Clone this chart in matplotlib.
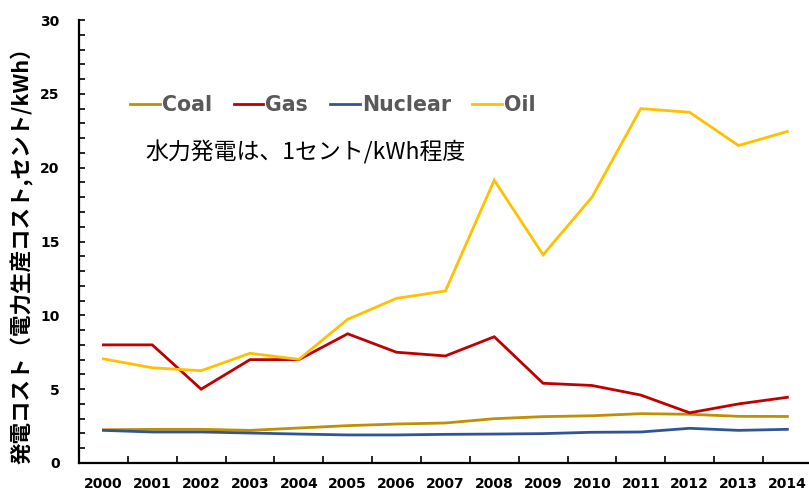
import matplotlib
matplotlib.use("Agg")
import matplotlib.pyplot as plt
from matplotlib.ticker import MultipleLocator, FixedLocator

years = ["2000", "2001", "2002", "2003", "2004", "2005", "2006", "2007",
         "2008", "2009", "2010", "2011", "2012", "2013", "2014"]
coal = [2.25, 2.28, 2.28, 2.21, 2.37, 2.53, 2.64, 2.71, 3.0, 3.14, 3.2, 3.34, 3.3, 3.16, 3.15]
gas = [8.0, 8.0, 5.0, 7.0, 7.0, 8.75, 7.5, 7.25, 8.55, 5.4, 5.25, 4.6, 3.4, 4.0, 4.45]
nuclear = [2.21, 2.1, 2.1, 2.03, 1.96, 1.9, 1.9, 1.94, 1.96, 1.99, 2.08, 2.1, 2.35, 2.21, 2.28]
oil = [7.05, 6.45, 6.25, 7.43, 7.02, 9.73, 11.15, 11.65, 19.15, 14.1, 18.0, 24.0, 23.75, 21.5, 22.45]

series = [("Coal", coal, "#BF9000"), ("Gas", gas, "#C00000"),
          ("Nuclear", nuclear, "#2F5597"), ("Oil", oil, "#FFC000")]

fig = plt.figure(figsize=(8.09, 4.92), dpi=100)
ax = fig.add_axes([79/809, 1-463/492, (811.4-78.6)/809, 443/492])

x = list(range(len(years)))
for name, vals, col in series:
    ax.plot(x, vals, color=col, lw=2.0, label=name, solid_joinstyle="miter")

ax.set_xlim(-0.5, len(years) - 0.5)
ax.set_ylim(0, 30)
ax.yaxis.set_major_locator(MultipleLocator(5))
ax.yaxis.set_minor_locator(MultipleLocator(1))
ax.set_xticks(x)
ax.set_xticklabels(years)
ax.xaxis.set_minor_locator(FixedLocator([i + 0.5 for i in x[:-1]]))

for s in ["top", "right"]:
    ax.spines[s].set_visible(False)
for s in ["left", "bottom"]:
    ax.spines[s].set_linewidth(1.6)
    ax.spines[s].set_color("black")

ax.tick_params(axis="y", which="both", direction="in", length=4, width=1.2,
               labelsize=10, pad=14)
ax.tick_params(axis="x", which="major", length=0, labelsize=10, pad=10)
ax.tick_params(axis="x", which="minor", direction="in", length=5, width=1.2)
for lab in ax.get_xticklabels() + ax.get_yticklabels():
    lab.set_fontweight("bold")
    lab.set_family("DejaVu Sans")

fig.text(22/809, 1-250/492, "発電コスト（電力生産コスト,セント/kWh）",
         rotation=90, ha="center", va="center", fontsize=15.5, fontweight="bold",
         family=["Noto Sans CJK JP", "DejaVu Sans"])

leg = fig.legend(loc="center left", bbox_to_anchor=(130/809, 1-105/492),
                 ncol=4, frameon=False, borderpad=0, borderaxespad=0,
                 handlelength=1.45, handletextpad=0.1, columnspacing=1.05,
                 prop={"family": "DejaVu Sans", "weight": "bold", "size": 14.8})
for t in leg.get_texts():
    t.set_color("#595959")

fig.text(145/809, 1-152/492, "水力発電は、1セント/kWh程度", ha="left", va="center",
         fontsize=16.5, family=["Noto Sans CJK JP", "DejaVu Sans"], color="black")

fig.savefig("out.png", dpi=100)
